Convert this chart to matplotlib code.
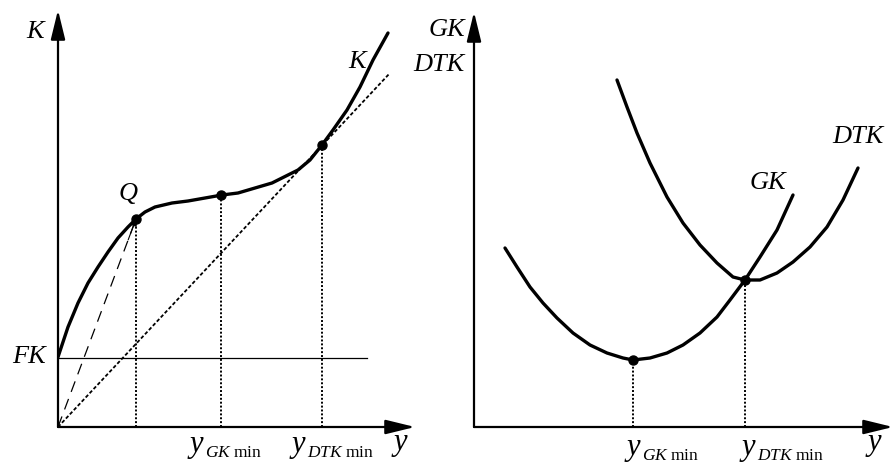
import matplotlib.pyplot as plt

plt.rcParams['mathtext.fontset'] = 'custom'
plt.rcParams['mathtext.rm'] = 'Liberation Serif'
plt.rcParams['mathtext.it'] = 'Liberation Serif:italic'
plt.rcParams['font.family'] = 'Liberation Serif'

# left panel: total cost curve K(y)
k_x = [0, 1.0, 2.0, 3.0, 4.0, 5.0, 6.0, 7.0, 7.8, 8.7, 9.7, 11.4, 13.0, 14.7, 16.4,
       18.0, 19.7, 21.4, 23.0, 24.0, 25.2, 26.4, 27.5, 28.9, 30.2, 31.5, 33.0]
k_y = [7.0, 10.0, 12.4, 14.4, 16.0, 17.5, 18.9, 20.0, 20.8, 21.5, 22.0, 22.4, 22.6, 22.9, 23.2,
       23.4, 23.9, 24.4, 25.2, 25.7, 26.7, 28.2, 29.7, 31.7, 34.0, 36.7, 39.4]
fk = 6.9
fk_end = 30.9
q_pt = (7.8, 20.8)
gk_min_pt = (16.3, 23.2)
dtk_min_pt = (26.4, 28.2)
ray_end = (33.2, 35.4)

# right panel: average costs GK and DTK
gk_x = [3.1, 4.3, 5.6, 6.9, 8.3, 9.9, 11.6, 13.3, 14.9, 15.9, 17.6, 19.3, 20.9, 22.6, 24.3,
        25.6, 27.1, 28.6, 30.3, 31.9]
gk_y = [17.9, 16.0, 14.0, 12.4, 10.9, 9.4, 8.2, 7.4, 6.9, 6.7, 6.9, 7.4, 8.2, 9.4, 11.0,
        12.7, 14.7, 17.0, 19.7, 23.2]
dtk_x = [14.3, 15.3, 16.3, 17.6, 19.3, 20.9, 22.6, 24.3, 25.9, 27.1, 28.6, 30.3, 31.9,
         33.6, 35.3, 36.9, 38.4]
dtk_y = [34.7, 32.0, 29.4, 26.4, 23.0, 20.4, 18.2, 16.4, 15.0, 14.7, 14.7, 15.4, 16.5,
         18.0, 20.0, 22.7, 25.9]
r_gk_min = (15.9, 6.7)
r_dtk_min = (27.1, 14.7)

W, H = 893, 469
fig = plt.figure(figsize=(W / 100, H / 100), dpi=100)

def make_axes(x0, xmax, ymax):
    # axes whose data units are 10 px, origin at (x0, 427) px
    ax = fig.add_axes([x0 / W, (H - 427) / H, xmax * 10 / W, ymax * 10 / H])
    ax.set_xlim(0, xmax)
    ax.set_ylim(0, ymax)
    ax.axis('off')
    return ax

def draw_axes(ax, xtip, ytip):
    ap = dict(arrowstyle='-|>,head_length=0.9,head_width=0.22', lw=1.6, color='k',
              mutation_scale=20, shrinkA=0, shrinkB=0)
    ax.annotate('', xy=(xtip, 0), xytext=(0, 0), arrowprops=ap, annotation_clip=False)
    ax.annotate('', xy=(0, ytip), xytext=(0, 0), arrowprops=ap, annotation_clip=False)

def ymin_label(ax, x, y, name):
    t = ax.text(x, y, 'y', fontsize=22, style='italic', ha='left', va='baseline')
    ax.annotate(r'$%s\ \mathrm{min}$' % name, xy=(1, 0), xycoords=t, xytext=(1, 1.5),
                textcoords='offset points', fontsize=12.5, ha='left', va='baseline')

dot = (0, (1, 1))
lab = dict(fontsize=19, style='italic', ha='center', va='center')
curve = dict(color='k', lw=2.4, solid_capstyle='round', solid_joinstyle='round')

# ---- left
ax1 = make_axes(58, 36.2, 41.7)
draw_axes(ax1, 35.7, 41.7)
ax1.plot([0, fk_end], [fk, fk], color='k', lw=0.9)
ax1.plot([0, ray_end[0]], [0, ray_end[1]], color='k', lw=1.3, linestyle=(0, (2, 1.2)))
ax1.plot([0, q_pt[0]], [0, q_pt[1]], color='k', lw=0.9, linestyle=(0, (9, 6)))
ax1.annotate('', xy=q_pt, xytext=(q_pt[0] * 0.9, q_pt[1] * 0.9),
             arrowprops=dict(arrowstyle='-|>', color='k', lw=0.8, mutation_scale=10, shrinkA=0, shrinkB=0))
for px, py in [q_pt, gk_min_pt, dtk_min_pt]:
    ax1.plot([px, px], [0, py], color='k', lw=1.4, linestyle=dot)
ax1.plot(k_x, k_y, **curve)
for px, py in [q_pt, gk_min_pt, dtk_min_pt]:
    ax1.plot(px, py, 'o', color='k', ms=6.5)

ax1.text(-2.3, 39.5, 'K', **lab)
ax1.text(-2.9, 7.0, 'FK', **lab)
ax1.text(7.0, 23.3, 'Q', **lab)
ax1.text(29.9, 36.5, 'K', **lab)
ax1.text(34.2, -1.5, 'y', **dict(lab, fontsize=22))
ymin_label(ax1, 13.2, -2.5, 'GK')
ymin_label(ax1, 23.4, -2.5, 'DTK')

# ---- right
ax2 = make_axes(474, 41.9, 41.7)
draw_axes(ax2, 41.9, 41.5)
for px, py in [r_gk_min, r_dtk_min]:
    ax2.plot([px, px], [0, py], color='k', lw=1.4, linestyle=dot)
ax2.plot(gk_x, gk_y, **curve)
ax2.plot(dtk_x, dtk_y, **curve)
for px, py in [r_gk_min, r_dtk_min]:
    ax2.plot(px, py, 'o', color='k', ms=6.5)

ax2.text(-0.9, 39.7, 'GK', **dict(lab, ha='right'))
ax2.text(-0.9, 36.2, 'DTK', **dict(lab, ha='right'))
ax2.text(29.4, 24.4, 'GK', **lab)
ax2.text(38.4, 29.0, 'DTK', **lab)
ax2.text(40.0, -1.5, 'y', **dict(lab, fontsize=22))
ymin_label(ax2, 15.3, -2.8, 'GK')
ymin_label(ax2, 26.8, -2.8, 'DTK')

fig.savefig('out.png', dpi=100, facecolor='white')
